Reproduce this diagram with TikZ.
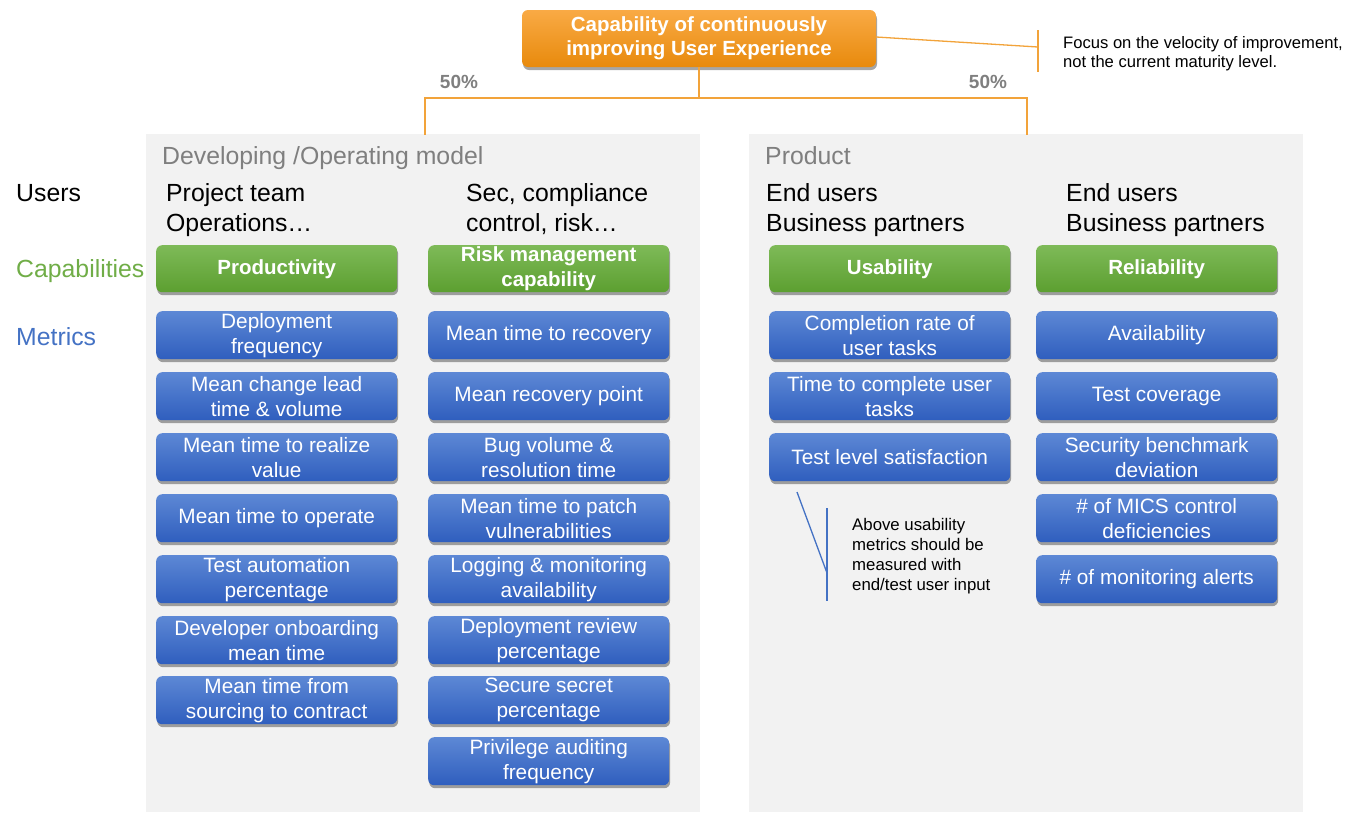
\documentclass[tikz,border=0pt]{standalone}
\usepackage{fontspec}
\setmainfont{Liberation Sans}
\usetikzlibrary{shadows}
\definecolor{orT}{HTML}{F9AA45}
\definecolor{orB}{HTML}{E88A0C}
\definecolor{orLine}{HTML}{F2A33A}
\definecolor{grT}{HTML}{7EBA58}
\definecolor{grB}{HTML}{5C9F30}
\definecolor{blT}{HTML}{5D88D5}
\definecolor{blB}{HTML}{2F5EBE}
\definecolor{panelgray}{HTML}{F2F2F2}
\definecolor{txgray}{HTML}{7F7F7F}
\definecolor{capgreen}{HTML}{70AD47}
\definecolor{metblue}{HTML}{4472C4}
\begin{document}
\begin{tikzpicture}[x=1pt,y=-1pt,
  boxshadow/.style={drop shadow={shadow xshift=1pt,shadow yshift=-3pt,opacity=0.35,fill=black}},
  topbox/.style={rounded corners=6pt,top color=orT,bottom color=orB,boxshadow,text=white,
    font=\fontsize{20.5}{24}\selectfont\bfseries,align=center,minimum width=354pt,minimum height=57pt,inner sep=0pt},
  capbox/.style={rounded corners=6pt,top color=grT,bottom color=grB,boxshadow,text=white,
    font=\fontsize{20.5}{25}\selectfont\bfseries,align=center,minimum width=241pt,minimum height=47pt,inner sep=0pt,anchor=north west},
  metric/.style={rounded corners=6pt,top color=blT,bottom color=blB,boxshadow,text=white,
    font=\fontsize{20.8}{25}\selectfont,align=center,minimum width=241pt,minimum height=48pt,inner sep=0pt,anchor=north west},
  panel/.style={fill=panelgray,minimum width=554pt,minimum height=678pt,inner sep=0pt,anchor=north west},
  head/.style={font=\fontsize{24.8}{30}\selectfont,anchor=base west,inner sep=0pt},
  users/.style={font=\fontsize{24.8}{30}\selectfont,align=left,anchor=north west,inner sep=0pt},
  pct/.style={font=\fontsize{19}{22}\selectfont\bfseries,text=txgray,anchor=base,inner sep=0pt},
  olink/.style={draw=orLine,line width=2pt},
  note/.style={font=\fontsize{16.6}{19}\selectfont,align=left,anchor=north west,inner sep=0pt}
]
\useasboundingbox (0,0) rectangle (1360,812);

% panels
\node[panel] (pleft) at (146,134) {};
\node[panel] (pright) at (749,134) {};

% top box
\node[topbox] (top) at (699,38.5) {Capability of continuously\\improving User Experience};

% bracket
\coordinate (bl) at (425,98);
\coordinate (br) at (1027,98);
\coordinate (bm) at (top.south |- bl);
\coordinate (pl) at (425,134);
\coordinate (pr) at (1027,134);
\draw[olink] (top.south) -- (bm);
\draw[olink,line cap=rect] (pl) -- (bl) -- (br) -- (pr);
\node[pct] (p1) at (459,88) {50\%};
\node[pct] (p2) at (988,88) {50\%};

% focus note
\coordinate (fa) at (1038,47);
\coordinate (ft) at (1038,30);
\coordinate (fb) at (1038,72);
\draw[orLine,line width=1.3pt] (top.east |- 0,37) -- (fa);
\draw[orLine,line width=1.3pt] (ft) -- (fb);
\node[note] (focus) at (1063,36.5) {Focus on the velocity of improvement,\\not the current maturity level.};

% panel titles
\node[head,text=txgray] (t1) at (162,164.5) {Developing /Operating model};
\node[head,text=txgray] (t2) at (765,164.5) {Product};

% row labels
\node[head] (lu) at (16,201.5) {Users};
\node[head,text=capgreen] (lc) at (16,277) {Capabilities};
\node[head,text=metblue] (lm) at (16,345) {Metrics};

% users
\node[users] (u1) at (166,183.5) {Project team\\Operations…};
\node[users] (u2) at (466,183.5) {Sec, compliance\\control, risk…};
\node[users] (u3) at (766,183.5) {End users\\Business partners};
\node[users] (u4) at (1066,183.5) {End users\\Business partners};

% capabilities
\node[capbox] (c1) at (156,245) {Productivity};
\node[capbox] (c2) at (428,245) {Risk management\\capability};
\node[capbox] (c3) at (769,245) {Usability};
\node[capbox] (c4) at (1036,245) {Reliability};

% metrics column 1
\node[metric] (m11) at (156,311) {Deployment\\frequency};
\node[metric] (m12) at (156,372) {Mean change lead\\time \& volume};
\node[metric] (m13) at (156,433) {Mean time to realize\\value};
\node[metric] (m14) at (156,494) {Mean time to operate};
\node[metric] (m15) at (156,555) {Test automation\\percentage};
\node[metric] (m16) at (156,616) {Developer onboarding\\mean time};
\node[metric] (m17) at (156,676) {Mean time from\\sourcing to contract};

% metrics column 2
\node[metric] (m21) at (428,311) {Mean time to recovery};
\node[metric] (m22) at (428,372) {Mean recovery point};
\node[metric] (m23) at (428,433) {Bug volume \&\\resolution time};
\node[metric] (m24) at (428,494) {Mean time to patch\\vulnerabilities};
\node[metric] (m25) at (428,555) {Logging \& monitoring\\availability};
\node[metric] (m26) at (428,616) {Deployment review\\percentage};
\node[metric] (m27) at (428,676) {Secure secret\\percentage};
\node[metric] (m28) at (428,737) {Privilege auditing\\frequency};

% metrics column 3
\node[metric] (m31) at (769,311) {Completion rate of\\user tasks};
\node[metric] (m32) at (769,372) {Time to complete user\\tasks};
\node[metric] (m33) at (769,433) {Test level satisfaction};

% metrics column 4
\node[metric] (m41) at (1036,311) {Availability};
\node[metric] (m42) at (1036,372) {Test coverage};
\node[metric] (m43) at (1036,433) {Security benchmark\\deviation};
\node[metric] (m44) at (1036,494) {\# of MICS control\\deficiencies};
\node[metric] (m45) at (1036,555) {\# of monitoring alerts};

% usability note
\coordinate (ua) at (797,492);
\coordinate (ub) at (827,573);
\coordinate (ut) at (827,508);
\coordinate (ubot) at (827,601);
\draw[metblue,line width=1.3pt] (ua) -- (ub);
\draw[metblue,line width=1.3pt] (ut) -- (ubot);
\node[note,font=\fontsize{16.8}{20}\selectfont] (unote) at (852,518) {Above usability\\metrics should be\\measured with\\end/test user input};
\end{tikzpicture}
\end{document}
